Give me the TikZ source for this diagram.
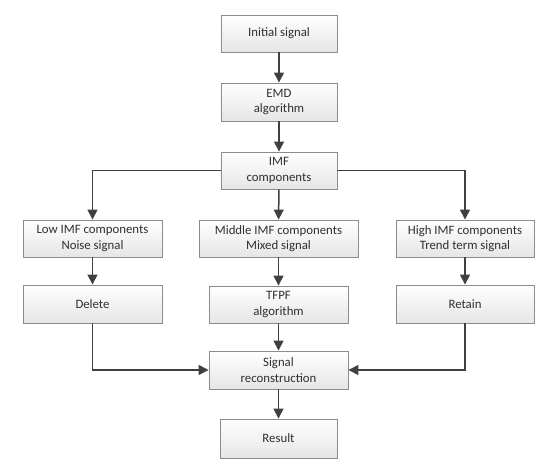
\documentclass[tikz,border=0pt]{standalone}
\usepackage{fontspec}
\setmainfont{Carlito}
\usetikzlibrary{arrows.meta,positioning}
\definecolor{boxborder}{HTML}{8C8C8C}
\definecolor{linecol}{HTML}{404040}
\definecolor{txtcol}{HTML}{303030}
\tikzset{
  box/.style={draw=boxborder, line width=0.9pt, top color=white, bottom color=black!10,
    align=center, font=\fontsize{12.8}{15.6}\selectfont, text=txtcol, inner sep=0pt},
  conn/.style={draw=linecol, line width=1.5pt, -{Triangle[length=10pt,width=10pt]}},
  plain/.style={draw=linecol, line width=1.5pt}
}
\begin{document}
\begin{tikzpicture}[x=1pt,y=-1pt]
\useasboundingbox (0,0) rectangle (550,470);
\node[box, minimum width=116pt, minimum height=37pt] (init) at (279,33.5) {Initial signal};
\node[box, minimum width=116pt, minimum height=38pt] (emd) at (279,102) {EMD\\algorithm};
\node[box, minimum width=116pt, minimum height=37pt] (imf) at (279,170.5) {IMF\\components};
\node[box, minimum width=139pt, minimum height=37pt] (low) at (92.5,238.5) {Low IMF components\\Noise signal};
\node[box, minimum width=159pt, minimum height=37pt] (mid) at (278.5,238.5) {Middle IMF components\\Mixed signal};
\node[box, minimum width=138pt, minimum height=37pt] (high) at (465,238.5) {High IMF components\\Trend term signal};
\node[box, minimum width=139pt, minimum height=38pt] (del) at (92.5,304) {Delete};
\node[box, minimum width=139pt, minimum height=37pt] (tfpf) at (278.5,304.5) {TFPF\\algorithm};
\node[box, minimum width=138pt, minimum height=38pt] (ret) at (465,304) {Retain};
\node[box, minimum width=139pt, minimum height=38pt] (rec) at (278.5,370) {Signal\\reconstruction};
\node[box, minimum width=117pt, minimum height=39pt] (res) at (278.5,438.5) {Result};

\draw[conn] (init) -- (emd);
\draw[conn] (emd) -- (imf);
\draw[conn] (imf.west) -| (low.north);
\draw[conn] (imf) -- (mid);
\draw[conn] (imf.east) -| (high.north);
\draw[conn] (low) -- (del);
\draw[conn] (mid) -- (tfpf);
\draw[conn] (high) -- (ret);
\draw[conn] (del.south) |- (rec.west);
\draw[conn] (tfpf) -- (rec);
\draw[conn] (ret.south) |- (rec.east);
\draw[conn] (rec) -- (res);
\end{tikzpicture}
\end{document}
